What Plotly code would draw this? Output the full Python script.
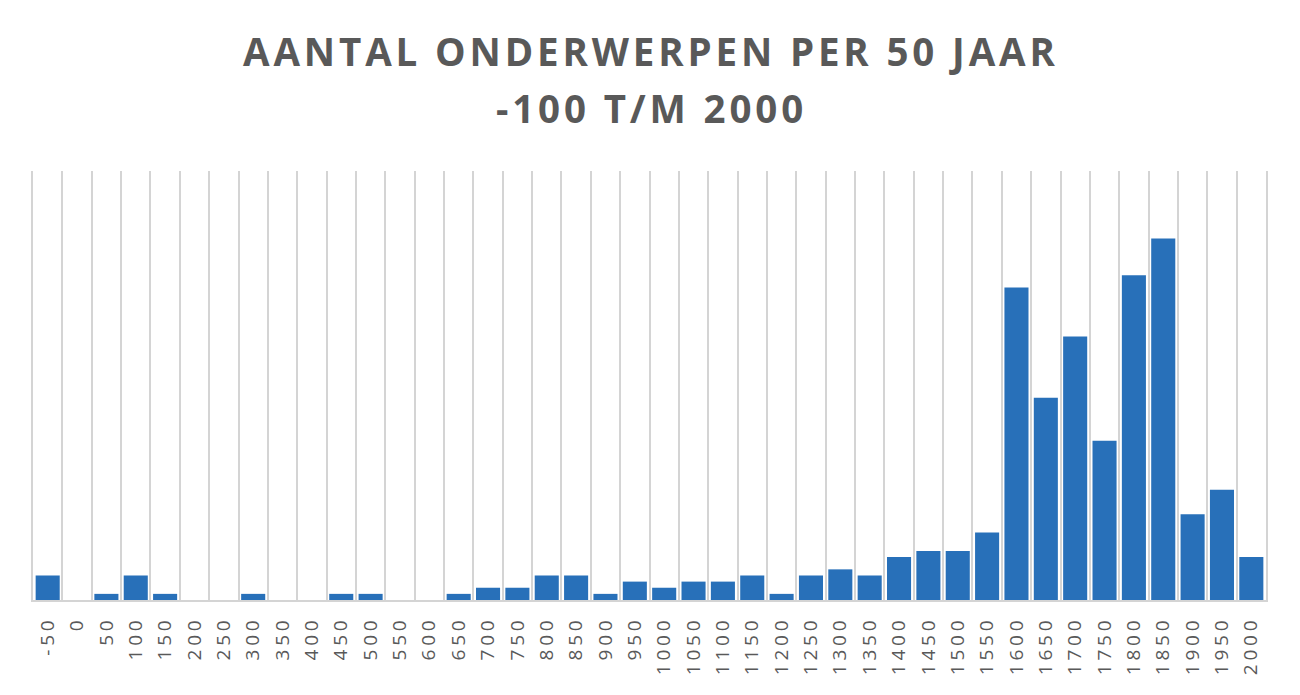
import plotly.graph_objects as go

categories = [str(v) for v in range(-50, 2001, 50)]
values = [4, 0, 1, 4, 1, 0, 0, 1, 0, 0, 1, 1, 0, 0,
          1, 2, 2, 4, 4, 1, 3, 2, 3, 3, 4, 1, 4, 5, 4,
          7, 8, 8, 11, 51, 33, 43, 26, 53, 59, 14, 18, 7]
title_lines = ["AANTAL ONDERWERPEN PER 50 JAAR", "-100 T/M 2000"]

HS = "\u200a"
ticktext = [(HS * 2).join(c) for c in categories]

fig = go.Figure(go.Bar(
    x=categories, y=values,
    marker=dict(color="#2870B9", line=dict(width=0)),
    width=0.82,
))

# the page body adds an 8px offset; margins compensate for it
fig.update_layout(
    width=1300, height=695,
    margin=dict(l=25, r=42, t=163, b=103, autoexpand=False),
    paper_bgcolor="white", plot_bgcolor="white",
    showlegend=False,
)
title_y = [1.28, 1.148]
for line, yy in zip(title_lines, title_y):
    fig.add_annotation(
        text=HS.join(line), xref="paper", yref="paper", x=0.5, y=yy,
        xanchor="center", yanchor="middle", showarrow=False,
        font=dict(family="Open Sans", size=38.5, color="#595959", weight="bold"),
    )

fig.update_xaxes(
    type="category", tickmode="array", tickvals=categories, ticktext=ticktext,
    tickson="boundaries", ticks="", tickangle=-90, automargin=False,
    showgrid=True, gridcolor="#D4D4D4", gridwidth=1.5,
    showline=True, linecolor="#D4D4D4", linewidth=1.5,
    tickfont=dict(family="Open Sans", size=19, color="#595959"),
    ticklabelstandoff=11,
)
fig.update_yaxes(range=[0, 70], showticklabels=False, ticks="", showgrid=False,
                 zeroline=False, showline=True, mirror=True,
                 linecolor="#D4D4D4", linewidth=1.5, automargin=False)

fig.write_html("out.html")
